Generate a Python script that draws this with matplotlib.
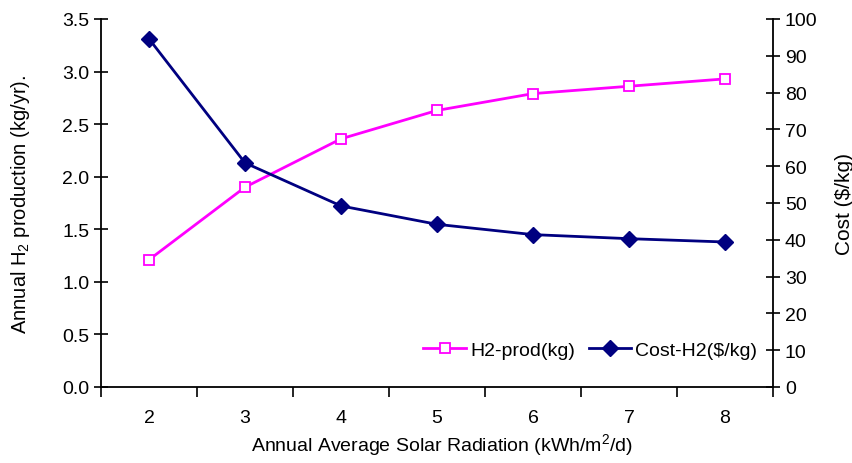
import matplotlib.pyplot as plt

plt.rcParams['font.family'] = ['Liberation Sans', 'DejaVu Sans']
plt.rcParams['mathtext.fontset'] = 'custom'
plt.rcParams['mathtext.rm'] = 'Liberation Sans'

radiation = [2, 3, 4, 5, 6, 7, 8]
h2_prod = [1.21, 1.90, 2.36, 2.63, 2.79, 2.86, 2.93]
cost_h2 = [94.6, 60.9, 49.2, 44.2, 41.4, 40.3, 39.4]

fig = plt.figure(figsize=(8.53, 4.64), dpi=100)
ax = fig.add_axes([0.1184, 0.1638, 0.7878, 0.7932])
ax2 = ax.twinx()

l1, = ax.plot(radiation, h2_prod, color='#FF00FF', lw=2.0, marker='s',
              markersize=7.5, markerfacecolor='white', markeredgecolor='#FF00FF',
              markeredgewidth=1.3, label='H2-prod(kg)', zorder=3)
l2, = ax2.plot(radiation, cost_h2, color='#000080', lw=2.0, marker='D',
               markersize=8.5, markerfacecolor='#000080', label='Cost-H2($/kg)')

ax.set_xlim(1.5, 8.5)
ax.set_ylim(0, 3.5)
ax2.set_ylim(0, 100)
ax.set_yticks([i * 0.5 for i in range(8)])
ax.set_yticklabels(['%.1f' % (i * 0.5) for i in range(8)])
ax2.set_yticks(range(0, 101, 10))

# category-style x axis: ticks between labels
ax.set_xticks([x - 0.5 for x in radiation] + [8.5])
ax.set_xticklabels([])
ax.set_xticks(radiation, minor=True)
ax.set_xticklabels([str(r) for r in radiation], minor=True)
ax.tick_params(axis='x', which='major', direction='out', length=7, width=1.2)
ax.tick_params(axis='x', which='minor', length=0, pad=16, labelsize=14)
ax.tick_params(axis='y', direction='inout', length=10, width=1.2, labelsize=14)
ax2.tick_params(axis='y', direction='inout', length=10, width=1.2, labelsize=14)

for a in (ax, ax2):
    a.spines['top'].set_visible(False)
    for s in ('left', 'right', 'bottom'):
        a.spines[s].set_linewidth(1.3)
ax.spines['right'].set_visible(False)
ax2.spines['left'].set_visible(False)
ax2.spines['bottom'].set_visible(False)

ax.set_xlabel('Annual Average Solar Radiation (kWh/m$^\\mathregular{2}$/d)', fontsize=14)
ax.xaxis.set_label_coords(0.507, -0.122)
ax.set_ylabel('Annual H$_\\mathregular{2}$ production (kg/yr).', fontsize=14.5, labelpad=22)
ax2.set_ylabel('Cost (\\$/kg)', fontsize=15, labelpad=13)

fig.legend([l1, l2], ['H2-prod(kg)', 'Cost-H2($/kg)'], ncol=2, frameon=False,
           loc='center', bbox_to_anchor=(0.692, 0.243), fontsize=14,
           handlelength=2.2, columnspacing=0.7, handletextpad=0.2)

fig.savefig('out.png', dpi=100)
